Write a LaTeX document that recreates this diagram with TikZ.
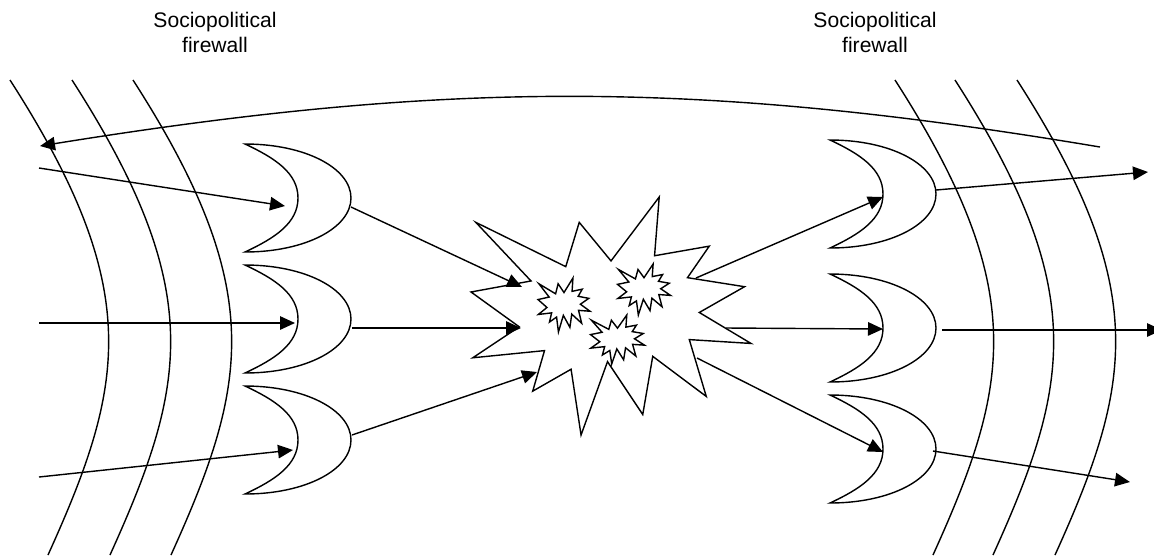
\documentclass[tikz,border=0pt]{standalone}
\usepackage{fontspec}
\setmainfont{Liberation Sans}
\usetikzlibrary{arrows.meta,calc}

\begin{document}
\begin{tikzpicture}[x=0.02cm,y=-0.02cm,line width=0.8pt,>={Triangle[length=0.3cm,width=0.27cm]}]
\tikzset{
  wall/.style={draw=black},
  gate/.style={draw=black,fill=white},
  seal/.style={draw=black,fill=white,line join=miter},
  flow/.style={->},
  label/.style={font=\fontsize{12}{14.2}\selectfont,align=center,inner sep=0pt}
}
\clip (0,0) rectangle (1154,556);
\node[label] (fwL) at (215,32) {Sociopolitical\\firewall};
\node[label] (fwR) at (875,32) {Sociopolitical\\firewall};

\foreach \dx in {0,62,123,885,945,1007} {
  \draw[wall] (10+\dx,80) .. controls (145+\dx,290) and (125+\dx,385) .. (48+\dx,555);
}

\foreach \nm/\gx/\gy in {g1/245/198,g2/245/319,g3/245/440,h1/830/194,h2/830/328,h3/830/449} {
  \begin{scope}[shift={(\gx,\gy)}]
  \draw[gate] (0,-54) .. controls (60,-54) and (106,-30) .. (106,0) .. controls (106,30) and (60,54) .. (0,54)
    .. controls (30,40) and (53,25) .. (53,0) .. controls (53,-25) and (30,-40) .. (0,-54) -- cycle;
  \coordinate (\nm-in) at (53,0);
  \coordinate (\nm-out) at (106,0);
  \end{scope}
}

\foreach \sx/\sy/\fx/\fy in {471/197/1.2963/1.1019,538/278/0.2407/0.25,617.5/264/0.2454/0.2361,590.5/315/0.25/0.2269} {
  \begin{scope}[shift={(\sx,\sy)},xscale=\fx,yscale=\fy]
  \draw[seal] (108,58) \foreach \px/\py in {145.2/0,141.6/53.3,183.8/44.6,167/73.2,211/81.4,176.1/104.8,216/132.9,168.4/129.4,181.5/181,140.2/144.6,132.5/197.4,105.3/149.4,84.9/216,77.2/156.3,47.6/176.2,56.7/139.4,1.4/145.9,37.2/117.8,0/86.2,46.3/76.2,3.7/23,73.1/63.2,83.5/23} { -- (\px,\py) } -- cycle;
  \end{scope}
}

\coordinate (s1) at (39,168);
\coordinate (s2) at (39,323);
\coordinate (s3) at (39,477);
\coordinate (x1) at (522,287);
\coordinate (x2) at (521,328);
\coordinate (x3) at (537,372);
\coordinate (y1) at (696,278);
\coordinate (y2) at (726,328);
\coordinate (y3) at (697,358);
\coordinate (t1) at (1148,172);
\coordinate (t2) at (1162,330);
\coordinate (t3) at (1130,482);
\coordinate (r0) at (1100,147);
\coordinate (r1) at (40,146);

\draw[flow] (r0) .. controls (700,80) and (450,80) .. (r1);
\draw[flow] (s1) -- ($(g1-in)+(-13,8)$);
\draw[flow] (s2) -- ($(g2-in)+(-3,4)$);
\draw[flow] (s3) -- ($(g3-in)+(-5,10)$);
\draw[flow] ($(g1-out)+(0,9)$) -- (x1);
\draw[flow] ($(g2-out)+(1,9)$) -- (x2);
\draw[flow] ($(g3-out)+(1,-5)$) -- (x3);
\draw[flow] (y1) -- ($(h1-in)+(0,3)$);
\draw[flow] (y2) -- ($(h2-in)+(0,1)$);
\draw[flow] (y3) -- ($(h3-in)+(0,3)$);
\draw[flow] ($(h1-out)+(0,-4)$) -- (t1);
\draw[flow] ($(h2-out)+(6,2)$) -- (t2);
\draw[flow] ($(h3-out)+(-3,2)$) -- (t3);
\end{tikzpicture}
\end{document}
